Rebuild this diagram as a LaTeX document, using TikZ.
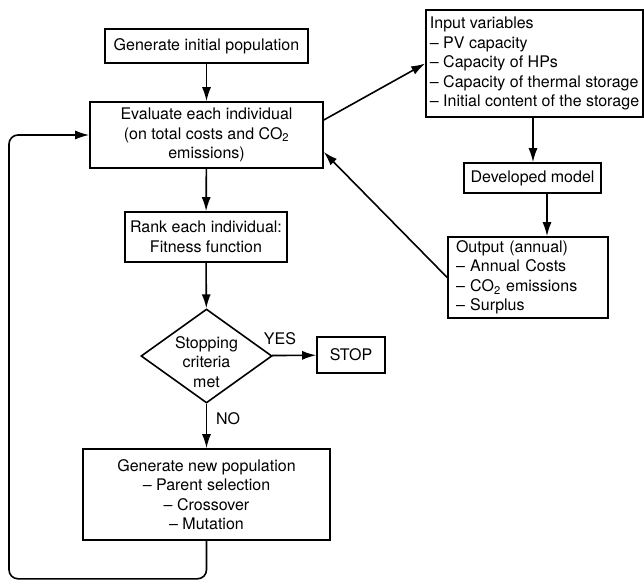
\documentclass[tikz,border=0pt]{standalone}
\usepackage{fontspec}
\setmainfont{TeX Gyre Heros}
\usetikzlibrary{shapes.geometric,arrows.meta,calc}
\begin{document}
\begin{tikzpicture}[x=1pt,y=-1pt,
  every node/.style={font=\fontsize{16}{19.5}\selectfont, inner sep=0pt},
  box/.style={draw, line width=1.6pt, align=center, minimum width=#1},
  lbox/.style={draw, line width=1.6pt, align=left, minimum width=#1},
  dia/.style={draw, diamond, line width=1.6pt, minimum width=131pt, minimum height=94pt},
  arr/.style={line width=1.6pt, -{Latex[length=14pt,width=9pt]}},
  lbl/.style={font=\fontsize{16}{19.5}\selectfont}
]
\useasboundingbox (0,0) rectangle (644,580);

\node[box=203pt, minimum height=34pt] (gen) at (206.5,46) {Generate initial population};
\node[box=233pt, minimum height=66pt] (eval) at (206.5,135) {Evaluate each individual\\(on total costs and CO\textsubscript{2}\\emissions)};
\node[box=162pt, minimum height=50pt] (rank) at (206,237) {Rank each individual:\\Fitness function};
\node[dia] (stopq) at (206.5,356) {};
\node[align=center] (stoptxt) at (206.5,362) {Stopping\\criteria\\met};
\node[box=68pt, minimum height=36pt] (stop) at (351,355) {STOP};
\node[box=247pt, minimum height=91pt] (newpop) at (206.5,494.5) {Generate new population\\– Parent selection\\– Crossover\\– Mutation};

\node[lbox=217pt, minimum height=107pt] (input) at (534.5,63.5) {Input variables\\– PV capacity\\– Capacity of HPs\\– Capacity of thermal storage\\– Initial content of the storage};
\node[box=137pt, minimum height=30pt] (model) at (532.5,178) {Developed model};
\node[lbox=160pt, minimum height=81pt, text width=144pt] (output) at (528,277.5) {Output (annual)\\– Annual Costs\\– CO\textsubscript{2} emissions\\– Surplus};

\node[lbl] (yes) at (280,339) {YES};
\node[lbl] (no) at (228,419) {NO};

\draw[arr] (gen) -- (eval);
\draw[arr] (eval) -- (rank);
\draw[arr] (rank) -- (stopq);
\draw[arr] (stopq) -- (stop);
\draw[arr] (stopq) -- (newpop);
\draw[arr, rounded corners=9pt] (newpop.south) -- ++(0,38) -| (9,135) -- (eval.west);

\draw[arr] ([yshift=15pt]eval.east) -- (input.west);
\draw[arr] ([xshift=-1.5pt]input.south) -- ([xshift=0.5pt]model.north);
\draw[arr] ([xshift=14.5pt]model.south) -- ([xshift=14.5pt]model.south |- output.north);
\draw[arr] (output.west) -- ([yshift=-17pt]eval.east);
\end{tikzpicture}
\end{document}
